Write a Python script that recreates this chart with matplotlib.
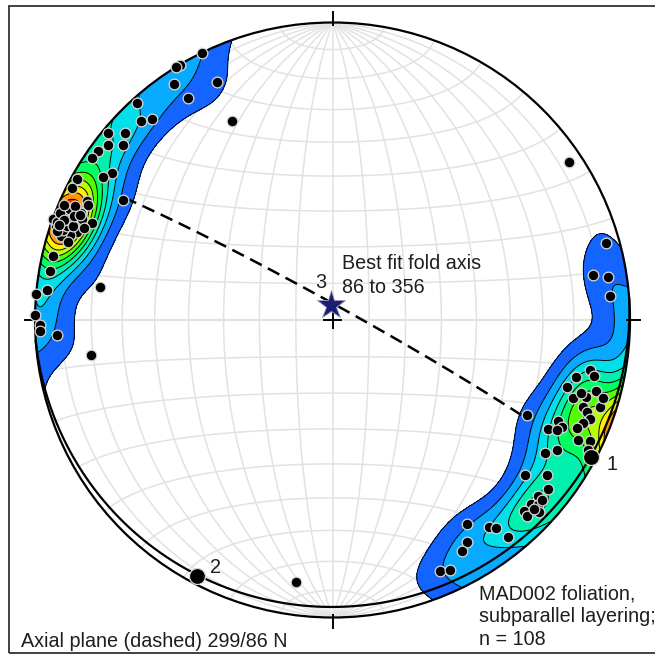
import numpy as np
import matplotlib
matplotlib.use("Agg")
import matplotlib.pyplot as plt
from matplotlib.patches import Circle, Rectangle

plt.rcParams['font.family'] = ['Liberation Sans', 'DejaVu Sans']

# ---- data: poles to foliation (trend, plunge in degrees), lower hemisphere ----
pole_trend = [334.0, 329.1, 328.2, 334.1, 326.0, 326.9, 318.0, 316.1, 318.1, 333.1,
              309.9, 312.0, 309.9, 307.9, 305.8, 303.9, 303.8, 301.9, 298.9, 296.9,
              299.8, 295.9, 295.1, 292.8, 293.0, 290.8, 289.9, 288.8, 292.0, 292.0,
              289.0, 287.9, 287.1, 282.9, 279.8, 276.0, 275.0, 278.1, 271.0, 269.0,
              267.8, 266.9, 261.8, 289.6, 288.4, 289.4, 293.9, 286.4, 291.4, 290.7,
              290.0, 287.9, 293.1, 290.3, 56.3, 74.3, 80.2, 81.2, 85.0, 100.9,
              102.1, 103.1, 106.0, 105.1, 108.0, 107.0, 108.1, 109.2, 109.9, 111.0,
              112.4, 114.0, 114.9, 116.9, 116.2, 113.9, 116.0, 115.1, 115.9, 122.0,
              120.0, 128.9, 125.9, 128.1, 130.7, 132.8, 132.0, 134.8, 132.9, 135.1,
              146.7, 142.9, 141.8, 141.1, 148.8, 150.8, 156.9, 154.9, 187.9, 290.5,
              291.8, 289.2, 292.5, 133.2, 130.7, 117.0, 106.1, 106.4]
pole_plunge = [0, 0, 0, 12, 5, 12, 2, 8, 10, 26,
               2, 7, 9, 5, 3, 3, 12, 10, 2, 2,
               20, 9, 10, 5, 9, 4, 0, 2, 10, 14,
               10, 8, 5, 4, 4, 4, 0, 22, 0, 2,
               2, 8, 19, 2, 5, 6, 6, 8, 2, 6,
               8, 3, 2, 12, 5, 5, 12, 7, 7, 13,
               11, 17, 19, 9, 16, 12, 6, 12, 10, 8,
               10, 18, 16, 20, 17, 11, 9, 5, 28, 17,
               14, 18, 12, 9, 10, 10, 8, 10, 6, 8,
               19, 14, 12, 7, 14, 12, 9, 8, 12, 4,
               7, 3, 9, 8, 8, 4, 6, 14]

fold_axis = (356, 86)      # best fit fold axis (eigenvector 3): trend, plunge
eig1 = (118, 2)
eig2 = (208, 3)
axial_strike, axial_dip = 299, 86
axial_rake_extent = (20, 152)

W, H = 655, 654
CX, CY, RP = 332.5, 320.0, 297.5

def tp_to_vec(trend, plunge):
    t = np.radians(np.asarray(trend, float)); p = np.radians(np.asarray(plunge, float))
    return np.stack([np.cos(p)*np.sin(t), np.cos(p)*np.cos(t), np.sin(p)], axis=-1)

def vec_proj(v):
    s = 1/np.sqrt(1+v[...,2])
    return v[...,0]*s, v[...,1]*s

def plane_line(dipdir, dip, rakes):
    sdir = np.radians(dipdir-90)
    s = np.array([np.sin(sdir), np.cos(sdir), 0])
    dd = np.radians(dipdir); dp = np.radians(dip)
    d = np.array([np.cos(dp)*np.sin(dd), np.cos(dp)*np.cos(dd), np.sin(dp)])
    ph = np.radians(rakes)[:,None]
    return np.cos(ph)*s + np.sin(ph)*d

fig = plt.figure(figsize=(W/100, H/100), dpi=100)
ax = fig.add_axes([0,0,1,1])
ax.set_xlim(-CX/RP, (W-CX)/RP)
ax.set_ylim((CY-H)/RP, CY/RP)
ax.axis('off')

gridc = '#e2e2e2'
phis = np.linspace(0, 180, 361)
for dip in range(10, 90, 10):
    for dd in (90, 270):
        X, Y = vec_proj(plane_line(dd, dip, phis))
        ax.plot(X, Y, color=gridc, lw=1.1, zorder=1)
ax.plot([0,0],[-1,1], color=gridc, lw=1.1, zorder=1)
ax.plot([-1,1],[0,0], color=gridc, lw=1.6, zorder=1)
ts = np.linspace(0, np.pi, 361)
for a in range(10, 180, 10):
    if a == 90: continue
    al = np.radians(a)
    v = np.stack([np.sin(al)*np.cos(ts), np.full_like(ts, np.cos(al)), np.sin(al)*np.sin(ts)], axis=-1)
    X, Y = vec_proj(v)
    ax.plot(X, Y, color=gridc, lw=1.1, zorder=1)

data = tp_to_vec(pole_trend, pole_plunge)
g = np.linspace(-1.06, 1.06, 300)
GX, GY = np.meshgrid(g, g)
rho2 = GX**2+GY**2
sq = np.sqrt(np.clip(2-rho2, 0, None))
gv = np.stack([GX*sq, GY*sq, 1-rho2], axis=-1).reshape(-1,3)
n = len(data)
kappa = 90.0
cosd = np.abs(gv @ data.T)
dens = (np.exp(kappa*(cosd-1)).sum(axis=1)*kappa/n).reshape(GX.shape)
levels = [1.4, 3.2, 5.0, 6.8, 8.6, 10.4, 12.2, 14.0, 15.8, 17.6, 99]
colors = ['#1464ff', '#08aaff', '#00e0e8', '#00f0b0', '#00ff60',
          '#50ff00', '#b8ff00', '#ffee00', '#ff9900', '#ff2a00']
cs = ax.contourf(GX, GY, dens, levels=levels, colors=colors, zorder=2)
cs.set_clip_path(Circle((0,0), 1, transform=ax.transData))
cl = ax.contour(GX, GY, dens, levels=levels[:-1], colors='black', linewidths=0.7, zorder=3)
cl.set_clip_path(Circle((0,0), 1, transform=ax.transData))

ax.add_patch(Circle((0,0), 1, fill=False, ec='black', lw=1.6, zorder=4))
X, Y = vec_proj(plane_line(fold_axis[0]-180, 90-fold_axis[1], phis))
ax.plot(X, Y, color='black', lw=1.6, zorder=4)
for ang in (0, 90, 180, 270):
    a = np.radians(ang)
    ax.plot([0.99*np.sin(a), 1.035*np.sin(a)], [0.99*np.cos(a), 1.035*np.cos(a)], color='black', lw=1.4, zorder=4)
cc = 0.027
ax.plot([-cc, cc], [0, 0], color='black', lw=1.4, zorder=4)
ax.plot([0, 0], [-cc, cc], color='black', lw=1.4, zorder=4)

X, Y = vec_proj(plane_line(axial_strike+90, axial_dip, np.linspace(*axial_rake_extent, 200)))
ax.plot(X, Y, color='black', lw=1.8, ls=(0,(5.2,2.8)), zorder=5)

X, Y = vec_proj(data)
ax.plot(X, Y, 'o', ms=7.7, mfc='black', mec='#d8d8d8', mew=0.9, zorder=6)
for e in (eig1, eig2):
    X, Y = vec_proj(tp_to_vec(*e))
    ax.plot(X, Y, 'o', ms=11.5, mfc='black', mec='#d8d8d8', mew=0.9, zorder=7)
X, Y = vec_proj(tp_to_vec(*fold_axis))
ax.plot(X, Y, '*', ms=21, mfc='#1c1c70', mec='#9a9ac0', mew=0.6, zorder=8)

def ftext(x, y, s):
    fig.text(x/W, 1-y/H, s, fontsize=14.2, color='#1e1e1e', va='baseline', ha='left')

ftext(342, 269, 'Best fit fold axis')
ftext(342, 293, '86 to 356')
ftext(315, 288, '3')
ftext(607, 470, '1')
ftext(210, 573, '2')
ftext(21, 647, 'Axial plane (dashed) 299/86 N')
ftext(479, 599, 'MAD002 foliation,')
ftext(479, 622, 'subparallel layering;')
ftext(479, 645, 'n = 108')

fig.patches.append(Rectangle((9/W, 1-653/H), (W+2-9)/W, (653-6)/H, transform=fig.transFigure,
                             fill=False, ec='#333333', lw=1.3))

fig.savefig('out.png', dpi=100)
